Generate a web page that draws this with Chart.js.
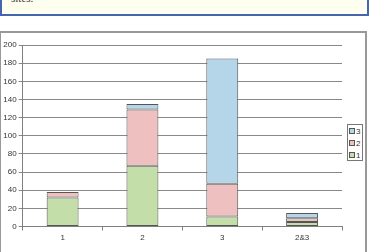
<!DOCTYPE html>
<html>
<head>
<meta charset="utf-8">
<script src="https://cdn.jsdelivr.net/npm/chart.js@4"></script>
<style>
  body { margin: 0; background: #fff; width: 370px; height: 252px; overflow: hidden; position: relative; }
  #note { position: absolute; left: 0; top: -22px; width: 365px; height: 34px; background: #fffff0; border: 2px solid #4466b0; }
  #note span { position: absolute; left: 9px; top: 12px; font: 11px "Liberation Serif", serif; color: #333; }
  #frame { position: absolute; left: 0; top: 31px; width: 364px; height: 230px; border: 1px solid #999; border-width: 2px 2px 0 1px; }
  #wrap { position: absolute; left: 1px; top: 33px; }
  #legend { position: absolute; left: 347px; top: 124px; width: 16px; height: 37px; border: 1px solid #777; box-sizing: border-box; font: 8px "Liberation Sans", Arial, sans-serif; color: #333; background: #fff; }
  #legend div { position: absolute; left: 1px; height: 8px; line-height: 8px; white-space: nowrap; }
  #legend i { display: inline-block; width: 4px; height: 4px; border: 1px solid #555; margin-right: 1px; vertical-align: 0px; }
</style>
</head>
<body>
<div id="note"><span>sites.</span></div>
<div id="frame"></div>
<div id="wrap"><canvas id="myBarChart" width="363" height="219"></canvas></div>
<div id="legend"></div>
<script>
var categories = ['1', '2', '3', '2&3'];
var seriesNames = ['1', '2', '3'];
var series1 = [32, 67, 11, 5];
var series2 = [6, 62, 36, 4];
var series3 = [null, 6, 138, 6];
var colors = ['#c3dea8', '#eec0c0', '#b5d5e9'];

var datasets = [series1, series2, series3].map(function(d, i) {
    return {
        label: seriesNames[i],
        data: d,
        backgroundColor: colors[i],
        borderColor: '#555555',
        borderWidth: 1,
        borderSkipped: false,
        barPercentage: 0.4,
        categoryPercentage: 1.0
    };
});

// legend, Excel style (reversed order)
var legend = document.getElementById('legend');
for (var i = seriesNames.length - 1; i >= 0; i--) {
    var row = document.createElement('div');
    row.style.top = (3 + (seriesNames.length - 1 - i) * 12) + 'px';
    row.innerHTML = '<i style="background:' + colors[i] + '"></i>' + seriesNames[i];
    legend.appendChild(row);
}

var font = { family: '"Liberation Sans", Arial, sans-serif', size: 8 };

var ctx = document.getElementById('myBarChart').getContext('2d');
var myChart = new Chart(ctx, {
    type: 'bar',
    data: { labels: categories, datasets: datasets },
    options: {
        responsive: false,
        animation: false,
        layout: { padding: { top: 12, right: 22, left: 0, bottom: 0 } },
        plugins: { legend: { display: false }, tooltip: { enabled: false } },
        scales: {
            x: {
                stacked: true,
                grid: { offset: true, drawOnChartArea: false, drawTicks: true, tickLength: 4, color: '#808080' },
                border: { color: '#808080' },
                ticks: { font: font, color: '#333', padding: 2 },
                afterFit: function(s) { s.height = 25.5; }
            },
            y: {
                stacked: true,
                min: 0,
                max: 200,
                grid: { color: '#888888', tickLength: 4 },
                border: { color: '#808080' },
                ticks: { stepSize: 20, font: font, color: '#333', padding: 2 },
                afterFit: function(s) { s.width = 21.7; }
            }
        }
    }
});
</script>
</body>
</html>
